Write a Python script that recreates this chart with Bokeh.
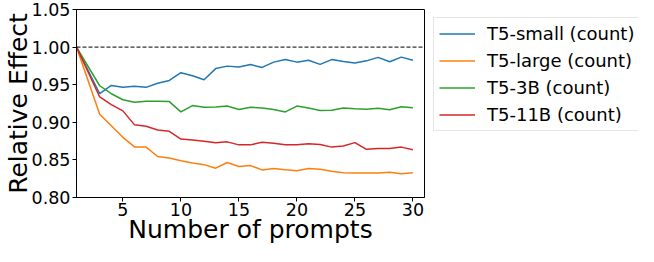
from bokeh.plotting import figure
from bokeh.layouts import row
from bokeh.models import Span, Legend, LegendItem, FixedTicker, NumeralTickFormatter
from bokeh.embed import file_html
from bokeh.resources import INLINE

prompts = [1] + list(range(3, 31))
t5_small = [1.0, 0.938, 0.949, 0.9465, 0.948, 0.9465, 0.952, 0.9556, 0.966, 0.962,
            0.9565, 0.9714, 0.9747, 0.9735, 0.9768, 0.973, 0.980, 0.9834, 0.980, 0.9826,
            0.977, 0.9834, 0.981, 0.979, 0.9817, 0.9863, 0.9805, 0.9867, 0.9826]
t5_large = [1.0, 0.9108, 0.8955, 0.880, 0.8673, 0.867, 0.8545, 0.8524, 0.849, 0.846,
            0.8437, 0.839, 0.8466, 0.8412, 0.8424, 0.8367, 0.8387, 0.837, 0.8355, 0.8387,
            0.8375, 0.835, 0.833, 0.8325, 0.8325, 0.8325, 0.8337, 0.8317, 0.833]
t5_3b = [1.0, 0.9486, 0.938, 0.930, 0.9266, 0.928, 0.928, 0.9275, 0.9138, 0.9222,
         0.920, 0.9204, 0.9216, 0.917, 0.920, 0.919, 0.917, 0.9138, 0.9216, 0.919,
         0.9158, 0.916, 0.919, 0.918, 0.9175, 0.9188, 0.9167, 0.9208, 0.9195]
t5_11b = [1.0, 0.9337, 0.9235, 0.9152, 0.8966, 0.8947, 0.8897, 0.888, 0.8777, 0.8765,
          0.8748, 0.8727, 0.874, 0.870, 0.870, 0.8735, 0.872, 0.870, 0.870, 0.8715,
          0.8706, 0.867, 0.8685, 0.873, 0.864, 0.8653, 0.8653, 0.867, 0.8636]

labels = ["T5-small (count)", "T5-large (count)", "T5-3B (count)", "T5-11B (count)"]
colors = ["#1f77b4", "#ff7f0e", "#2ca02c", "#d62728"]
series = [t5_small, t5_large, t5_3b, t5_11b]
x_ticks = [5, 10, 15, 20, 25, 30]
y_ticks = [0.80, 0.85, 0.90, 0.95, 1.00, 1.05]

FONT = "DejaVu Sans"
H = 246

p = figure(width=425, height=H, x_range=(1, 31), y_range=(0.80, 1.05),
           output_backend="svg", toolbar_location=None,
           min_border_left=0, min_border_top=9, min_border_right=1, min_border_bottom=0)

p.grid.visible = False
p.outline_line_color = "black"
p.outline_line_width = 1

p.add_layout(Span(location=1.0, dimension="width", line_color="black",
                  line_dash="4 2", line_width=1))

for col, ys in zip(colors, series):
    p.line(prompts, ys, line_color=col, line_width=1.5)

for ax in (p.xaxis[0], p.yaxis[0]):
    ax.axis_line_color = "black"
    ax.major_tick_line_color = "black"
    ax.minor_tick_line_color = None
    ax.major_tick_out = 4
    ax.major_tick_in = 0
    ax.major_label_text_font = FONT
    ax.major_label_text_font_size = "17.5px"
    ax.major_label_text_color = "black"
    ax.axis_label_text_font = FONT
    ax.axis_label_text_font_size = "25px"
    ax.axis_label_text_font_style = "normal"
    ax.axis_label_text_color = "black"

p.xaxis.ticker = FixedTicker(ticks=x_ticks)
p.yaxis.ticker = FixedTicker(ticks=y_ticks)
p.yaxis.formatter = NumeralTickFormatter(format="0.00")
p.xaxis.axis_label = "Number of prompts"
p.yaxis.axis_label = "Relative Effect"
p.xaxis.major_label_standoff = 1
p.xaxis.axis_label_standoff = -4
p.xaxis.axis_label_text_line_height = 1.0
p.xaxis.major_label_text_line_height = 1.0
p.yaxis.major_label_standoff = 2
p.yaxis.axis_label_standoff = -4

# legend panel: same series, drawn outside this panel's visible range
q = figure(width=213, height=H, x_range=(1, 31), y_range=(2, 3),
           output_backend="svg", toolbar_location=None,
           min_border_left=0, min_border_right=0, min_border_bottom=0, min_border_top=1)
q.axis.visible = False
q.grid.visible = False
q.outline_line_color = None
items = []
for lab, col, ys in zip(labels, colors, series):
    r = q.line(prompts, ys, line_color=col, line_width=1.5)
    items.append(LegendItem(label=lab, renderers=[r]))

legend = Legend(items=items, location="top_left", orientation="vertical",
                label_text_font=FONT, label_text_font_size="18px",
                label_text_color="black",
                glyph_width=36, glyph_height=21, label_height=21,
                label_standoff=12, spacing=6, padding=5, margin=8,
                border_line_color="#cccccc", border_line_width=1,
                background_fill_alpha=0.8)
q.add_layout(legend, "center")

layout = row(p, q)
open("out.html", "w").write(file_html(layout, INLINE))
